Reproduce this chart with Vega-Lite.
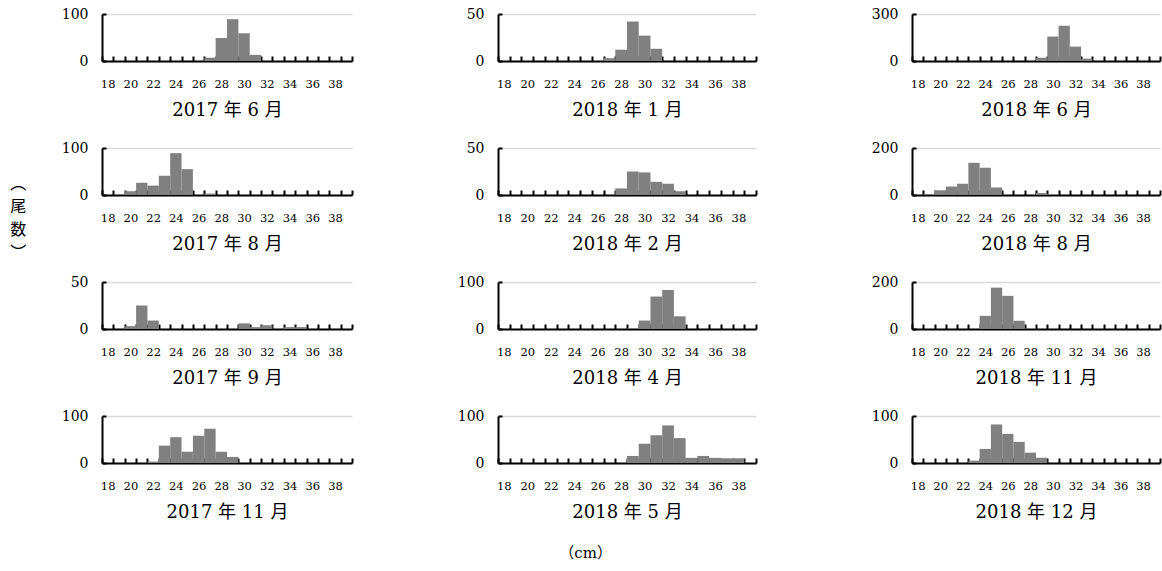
{
  "$schema": "https://vega.github.io/schema/vega-lite/v6.json",
  "padding": {"left": 10, "top": 7, "right": 4, "bottom": 5},
  "background": "white",
  "data": {"values": [
    {"p": "2017-6", "cm": 27, "n": 7}, {"p": "2017-6", "cm": 28, "n": 49}, {"p": "2017-6", "cm": 29, "n": 89}, {"p": "2017-6", "cm": 30, "n": 59}, {"p": "2017-6", "cm": 31, "n": 13},
    {"p": "2018-1", "cm": 27, "n": 3}, {"p": "2018-1", "cm": 28, "n": 12}, {"p": "2018-1", "cm": 29, "n": 42}, {"p": "2018-1", "cm": 30, "n": 27}, {"p": "2018-1", "cm": 31, "n": 13},
    {"p": "2018-6", "cm": 29, "n": 21}, {"p": "2018-6", "cm": 30, "n": 156}, {"p": "2018-6", "cm": 31, "n": 225}, {"p": "2018-6", "cm": 32, "n": 92}, {"p": "2018-6", "cm": 33, "n": 15},
    {"p": "2017-8", "cm": 19, "n": 1}, {"p": "2017-8", "cm": 20, "n": 8}, {"p": "2017-8", "cm": 21, "n": 26}, {"p": "2017-8", "cm": 22, "n": 20}, {"p": "2017-8", "cm": 23, "n": 41}, {"p": "2017-8", "cm": 24, "n": 89}, {"p": "2017-8", "cm": 25, "n": 55}, {"p": "2017-8", "cm": 27, "n": 3},
    {"p": "2018-2", "cm": 28, "n": 7}, {"p": "2018-2", "cm": 29, "n": 25}, {"p": "2018-2", "cm": 30, "n": 24}, {"p": "2018-2", "cm": 31, "n": 14}, {"p": "2018-2", "cm": 32, "n": 12}, {"p": "2018-2", "cm": 33, "n": 4},
    {"p": "2018-8", "cm": 19, "n": 3}, {"p": "2018-8", "cm": 20, "n": 20}, {"p": "2018-8", "cm": 21, "n": 36}, {"p": "2018-8", "cm": 22, "n": 48}, {"p": "2018-8", "cm": 23, "n": 137}, {"p": "2018-8", "cm": 24, "n": 116}, {"p": "2018-8", "cm": 25, "n": 32}, {"p": "2018-8", "cm": 29, "n": 8}, {"p": "2018-8", "cm": 30, "n": 4},
    {"p": "2017-9", "cm": 20, "n": 3}, {"p": "2017-9", "cm": 21, "n": 25}, {"p": "2017-9", "cm": 22, "n": 9}, {"p": "2017-9", "cm": 30, "n": 6}, {"p": "2017-9", "cm": 31, "n": 2}, {"p": "2017-9", "cm": 32, "n": 4}, {"p": "2017-9", "cm": 34, "n": 2}, {"p": "2017-9", "cm": 35, "n": 2},
    {"p": "2018-4", "cm": 29, "n": 1}, {"p": "2018-4", "cm": 30, "n": 18}, {"p": "2018-4", "cm": 31, "n": 69}, {"p": "2018-4", "cm": 32, "n": 83}, {"p": "2018-4", "cm": 33, "n": 27},
    {"p": "2018-11", "cm": 24, "n": 56}, {"p": "2018-11", "cm": 25, "n": 176}, {"p": "2018-11", "cm": 26, "n": 141}, {"p": "2018-11", "cm": 27, "n": 35}, {"p": "2018-11", "cm": 28, "n": 2},
    {"p": "2017-11", "cm": 22, "n": 3}, {"p": "2017-11", "cm": 23, "n": 37}, {"p": "2017-11", "cm": 24, "n": 55}, {"p": "2017-11", "cm": 25, "n": 24}, {"p": "2017-11", "cm": 26, "n": 58}, {"p": "2017-11", "cm": 27, "n": 73}, {"p": "2017-11", "cm": 28, "n": 24}, {"p": "2017-11", "cm": 29, "n": 13},
    {"p": "2018-5", "cm": 29, "n": 15}, {"p": "2018-5", "cm": 30, "n": 41}, {"p": "2018-5", "cm": 31, "n": 59}, {"p": "2018-5", "cm": 32, "n": 80}, {"p": "2018-5", "cm": 33, "n": 53}, {"p": "2018-5", "cm": 34, "n": 11}, {"p": "2018-5", "cm": 35, "n": 15}, {"p": "2018-5", "cm": 36, "n": 11}, {"p": "2018-5", "cm": 37, "n": 10}, {"p": "2018-5", "cm": 38, "n": 10},
    {"p": "2018-12", "cm": 23, "n": 5}, {"p": "2018-12", "cm": 24, "n": 30}, {"p": "2018-12", "cm": 25, "n": 82}, {"p": "2018-12", "cm": 26, "n": 62}, {"p": "2018-12", "cm": 27, "n": 45}, {"p": "2018-12", "cm": 28, "n": 22}, {"p": "2018-12", "cm": 29, "n": 11}
  ]},
  "title": {"text": "（cm）", "orient": "bottom", "fontSize": 15, "fontWeight": "normal", "offset": 24, "anchor": "middle", "color": "#000", "font": "DejaVu Serif, Noto Sans CJK JP"},
  "spacing": 104,
  "hconcat": [
    {
      "title": {"text": ["︵", "尾", "数", "︶"], "orient": "left", "angle": 0, "anchor": "middle", "align": "center", "baseline": "middle", "fontSize": 16, "fontWeight": "normal", "lineHeight": 23, "offset": 27, "dy": -80, "color": "#000", "font": "Noto Sans CJK JP"},
      "spacing": 21,
      "vconcat": [
        {"width": 250, "height": 47, "transform": [{"filter": "datum.p == '2017-6'"}], "mark": {"type": "bar", "color": "#808080"},
         "encoding": {"x": {"field": "cm", "type": "ordinal", "scale": {"domain": [18,19,20,21,22,23,24,25,26,27,28,29,30,31,32,33,34,35,36,37,38,39], "paddingInner": 0, "paddingOuter": 0}, "axis": {"title": "2017 年 6 月"}},
                      "y": {"field": "n", "type": "quantitative", "scale": {"domain": [0, 100], "nice": false}, "axis": {"values": [0, 100]}}}},
        {"width": 250, "height": 47, "transform": [{"filter": "datum.p == '2017-8'"}], "mark": {"type": "bar", "color": "#808080"},
         "encoding": {"x": {"field": "cm", "type": "ordinal", "scale": {"domain": [18,19,20,21,22,23,24,25,26,27,28,29,30,31,32,33,34,35,36,37,38,39], "paddingInner": 0, "paddingOuter": 0}, "axis": {"title": "2017 年 8 月"}},
                      "y": {"field": "n", "type": "quantitative", "scale": {"domain": [0, 100], "nice": false}, "axis": {"values": [0, 100]}}}},
        {"width": 250, "height": 47, "transform": [{"filter": "datum.p == '2017-9'"}], "mark": {"type": "bar", "color": "#808080"},
         "encoding": {"x": {"field": "cm", "type": "ordinal", "scale": {"domain": [18,19,20,21,22,23,24,25,26,27,28,29,30,31,32,33,34,35,36,37,38,39], "paddingInner": 0, "paddingOuter": 0}, "axis": {"title": "2017 年 9 月"}},
                      "y": {"field": "n", "type": "quantitative", "scale": {"domain": [0, 50], "nice": false}, "axis": {"values": [0, 50]}}}},
        {"width": 250, "height": 47, "transform": [{"filter": "datum.p == '2017-11'"}], "mark": {"type": "bar", "color": "#808080"},
         "encoding": {"x": {"field": "cm", "type": "ordinal", "scale": {"domain": [18,19,20,21,22,23,24,25,26,27,28,29,30,31,32,33,34,35,36,37,38,39], "paddingInner": 0, "paddingOuter": 0}, "axis": {"title": "2017 年 11 月"}},
                      "y": {"field": "n", "type": "quantitative", "scale": {"domain": [0, 100], "nice": false}, "axis": {"values": [0, 100]}}}}
      ]
    },
    {
      "spacing": 21,
      "vconcat": [
        {"width": 258, "height": 47, "transform": [{"filter": "datum.p == '2018-1'"}], "mark": {"type": "bar", "color": "#808080"},
         "encoding": {"x": {"field": "cm", "type": "ordinal", "scale": {"domain": [18,19,20,21,22,23,24,25,26,27,28,29,30,31,32,33,34,35,36,37,38,39], "paddingInner": 0, "paddingOuter": 0}, "axis": {"title": "2018 年 1 月"}},
                      "y": {"field": "n", "type": "quantitative", "scale": {"domain": [0, 50], "nice": false}, "axis": {"values": [0, 50]}}}},
        {"width": 258, "height": 47, "transform": [{"filter": "datum.p == '2018-2'"}], "mark": {"type": "bar", "color": "#808080"},
         "encoding": {"x": {"field": "cm", "type": "ordinal", "scale": {"domain": [18,19,20,21,22,23,24,25,26,27,28,29,30,31,32,33,34,35,36,37,38,39], "paddingInner": 0, "paddingOuter": 0}, "axis": {"title": "2018 年 2 月"}},
                      "y": {"field": "n", "type": "quantitative", "scale": {"domain": [0, 50], "nice": false}, "axis": {"values": [0, 50]}}}},
        {"width": 258, "height": 47, "transform": [{"filter": "datum.p == '2018-4'"}], "mark": {"type": "bar", "color": "#808080"},
         "encoding": {"x": {"field": "cm", "type": "ordinal", "scale": {"domain": [18,19,20,21,22,23,24,25,26,27,28,29,30,31,32,33,34,35,36,37,38,39], "paddingInner": 0, "paddingOuter": 0}, "axis": {"title": "2018 年 4 月"}},
                      "y": {"field": "n", "type": "quantitative", "scale": {"domain": [0, 100], "nice": false}, "axis": {"values": [0, 100]}}}},
        {"width": 258, "height": 47, "transform": [{"filter": "datum.p == '2018-5'"}], "mark": {"type": "bar", "color": "#808080"},
         "encoding": {"x": {"field": "cm", "type": "ordinal", "scale": {"domain": [18,19,20,21,22,23,24,25,26,27,28,29,30,31,32,33,34,35,36,37,38,39], "paddingInner": 0, "paddingOuter": 0}, "axis": {"title": "2018 年 5 月"}},
                      "y": {"field": "n", "type": "quantitative", "scale": {"domain": [0, 100], "nice": false}, "axis": {"values": [0, 100]}}}}
      ]
    },
    {
      "spacing": 21,
      "vconcat": [
        {"width": 248, "height": 47, "transform": [{"filter": "datum.p == '2018-6'"}], "mark": {"type": "bar", "color": "#808080"},
         "encoding": {"x": {"field": "cm", "type": "ordinal", "scale": {"domain": [18,19,20,21,22,23,24,25,26,27,28,29,30,31,32,33,34,35,36,37,38,39], "paddingInner": 0, "paddingOuter": 0}, "axis": {"title": "2018 年 6 月"}},
                      "y": {"field": "n", "type": "quantitative", "scale": {"domain": [0, 300], "nice": false}, "axis": {"values": [0, 300], "minExtent": 51}}}},
        {"width": 248, "height": 47, "transform": [{"filter": "datum.p == '2018-8'"}], "mark": {"type": "bar", "color": "#808080"},
         "encoding": {"x": {"field": "cm", "type": "ordinal", "scale": {"domain": [18,19,20,21,22,23,24,25,26,27,28,29,30,31,32,33,34,35,36,37,38,39], "paddingInner": 0, "paddingOuter": 0}, "axis": {"title": "2018 年 8 月"}},
                      "y": {"field": "n", "type": "quantitative", "scale": {"domain": [0, 200], "nice": false}, "axis": {"values": [0, 200], "minExtent": 51}}}},
        {"width": 248, "height": 47, "transform": [{"filter": "datum.p == '2018-11'"}], "mark": {"type": "bar", "color": "#808080"},
         "encoding": {"x": {"field": "cm", "type": "ordinal", "scale": {"domain": [18,19,20,21,22,23,24,25,26,27,28,29,30,31,32,33,34,35,36,37,38,39], "paddingInner": 0, "paddingOuter": 0}, "axis": {"title": "2018 年 11 月"}},
                      "y": {"field": "n", "type": "quantitative", "scale": {"domain": [0, 200], "nice": false}, "axis": {"values": [0, 200], "minExtent": 51}}}},
        {"width": 248, "height": 47, "transform": [{"filter": "datum.p == '2018-12'"}], "mark": {"type": "bar", "color": "#808080"},
         "encoding": {"x": {"field": "cm", "type": "ordinal", "scale": {"domain": [18,19,20,21,22,23,24,25,26,27,28,29,30,31,32,33,34,35,36,37,38,39], "paddingInner": 0, "paddingOuter": 0}, "axis": {"title": "2018 年 12 月"}},
                      "y": {"field": "n", "type": "quantitative", "scale": {"domain": [0, 100], "nice": false}, "axis": {"values": [0, 100], "minExtent": 51}}}}
      ]
    }
  ],
  "config": {
    "font": "DejaVu Serif, Noto Sans CJK JP",
    "view": {"stroke": null},
    "axisX": {"tickBand": "extent", "tickSize": -5, "tickColor": "#000", "tickWidth": 2, "domainColor": "#000", "domainWidth": 2, "labelAngle": 0, "labelPadding": 22, "labelFont": "DejaVu Serif", "labelFontSize": 11.5, "labelColor": "#000", "labelExpr": "datum.value % 2 == 0 ? datum.label : ''", "labelOverlap": false, "titleFont": "DejaVu Serif, Noto Sans CJK JP", "titleFontSize": 18, "titleFontWeight": "normal", "titleColor": "#000", "titlePadding": 12, "grid": false},
    "axisY": {"tickSize": -4, "tickColor": "#000", "tickWidth": 2, "domainColor": "#000", "domainWidth": 2, "grid": true, "gridColor": "#d9d9d9", "gridWidth": 1.5, "labelPadding": 18, "labelFont": "DejaVu Serif", "labelFontSize": 14, "labelColor": "#000", "title": null}
  }
}
